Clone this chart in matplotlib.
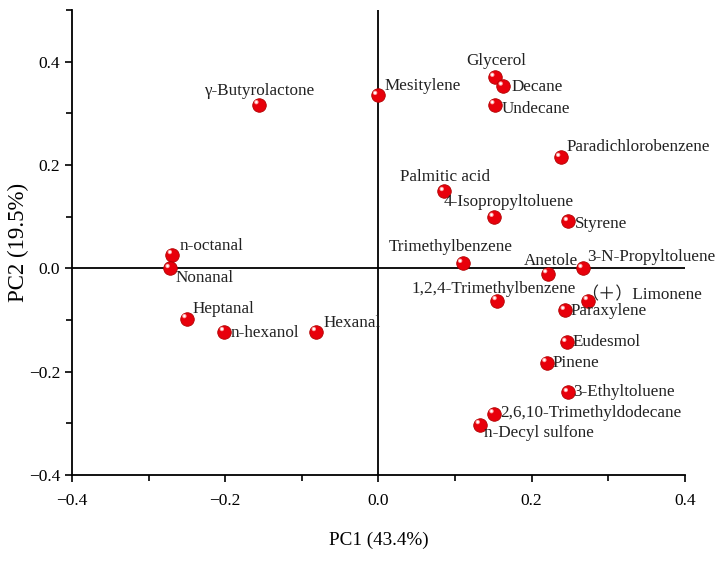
import matplotlib
matplotlib.use("Agg")
import matplotlib.pyplot as plt
from matplotlib.ticker import MultipleLocator
from matplotlib.transforms import ScaledTranslation

plt.rcParams['font.family'] = ['Liberation Serif', 'Noto Sans CJK SC', 'DejaVu Sans']

names = ["γ-Butyrolactone", "n-octanal", "Nonanal", "Heptanal", "n-hexanol", "Hexanal",
         "Mesitylene", "Glycerol", "Decane", "Undecane", "Paradichlorobenzene",
         "Palmitic acid", "4-Isopropyltoluene", "Styrene", "Trimethylbenzene", "Anetole",
         "3-N-Propyltoluene", "1,2,4-Trimethylbenzene", "（＋）Limonene", "Paraxylene",
         "Eudesmol", "Pinene", "3-Ethyltoluene", "2,6,10-Trimethyldodecane", "n-Decyl sulfone"]
pc1 = [-0.156, -0.269, -0.272, -0.250, -0.201, -0.081,
       -0.001, 0.152, 0.163, 0.152, 0.238,
       0.086, 0.151, 0.248, 0.110, 0.221,
       0.267, 0.155, 0.274, 0.244,
       0.246, 0.220, 0.248, 0.151, 0.133]
pc2 = [0.317, 0.027, 0.000, -0.097, -0.122, -0.122,
       0.335, 0.370, 0.353, 0.317, 0.215,
       0.149, 0.099, 0.091, 0.010, -0.010,
       0.000, -0.062, -0.062, -0.081,
       -0.143, -0.182, -0.240, -0.281, -0.302]

# label placement (pixels from point) and alignment
offsets = [(0, 14, 'center'), (7, 9, 'left'), (6, -10, 'left'), (6, 10, 'left'), (6, -1, 'left'),
           (7, 9, 'left'), (7, 9, 'left'), (1, 16, 'center'), (8, -1, 'left'), (7, -4, 'left'),
           (6, 10, 'left'), (1, 14, 'center'), (15, 15, 'center'), (7, -3, 'left'),
           (-12, 16, 'center'), (3, 13, 'center'), (4, 11, 'left'), (-3, 12, 'center'),
           (-7, 5, 'left'), (5, -1, 'left'), (6, 0, 'left'), (6, 0, 'left'), (5, 0, 'left'),
           (6, 1, 'left'), (4, -8, 'left')]

fig = plt.figure(figsize=(7.2, 5.61), dpi=100)
ax = fig.add_axes([0.1, 0.153, 0.851, 0.829])

ax.axhline(0, color='black', lw=1.3, zorder=1)
ax.axvline(0, color='black', lw=1.3, zorder=1)

ax.scatter(pc1, pc2, s=95, c='#e8000b', edgecolors='#b00000', linewidths=0.6, zorder=3)
shift = ax.transData + ScaledTranslation(-1.8 / 72, 1.8 / 72, fig.dpi_scale_trans)
ax.scatter(pc1, pc2, s=10, c='#ff9f9f', edgecolors='none', zorder=4, transform=shift)
ax.scatter(pc1, pc2, s=3, c='white', edgecolors='none', zorder=5, transform=shift)

for n, x, y, (dx, dy, ha) in zip(names, pc1, pc2, offsets):
    ax.annotate(n, (x, y), xytext=(dx, dy), textcoords='offset pixels',
                ha=ha, va='center', fontsize=12.3, color='#222222', zorder=6)

ax.set_xlim(-0.4, 0.4)
ax.set_ylim(-0.4, 0.5)
ax.set_xticks([-0.4, -0.2, 0.0, 0.2, 0.4])
ax.set_yticks([-0.4, -0.2, 0.0, 0.2, 0.4])
ax.xaxis.set_minor_locator(MultipleLocator(0.1))
ax.yaxis.set_minor_locator(MultipleLocator(0.1))
ax.spines['top'].set_visible(False)
ax.spines['right'].set_visible(False)
ax.spines['left'].set_linewidth(1.3)
ax.spines['bottom'].set_linewidth(1.3)
ax.tick_params(which='major', direction='out', length=5, width=1.2, labelsize=12.5)
ax.tick_params(which='minor', direction='out', length=4, width=1.2)
ax.tick_params(axis='x', pad=8)

ax.set_xlabel('PC1 (43.4%)', fontsize=13.8, labelpad=16)
ax.set_ylabel('PC2 (19.5%)', fontsize=16.5, va='center')
ax.yaxis.set_label_coords(-0.088, 0.5)

fig.savefig('out.png', dpi=100)
